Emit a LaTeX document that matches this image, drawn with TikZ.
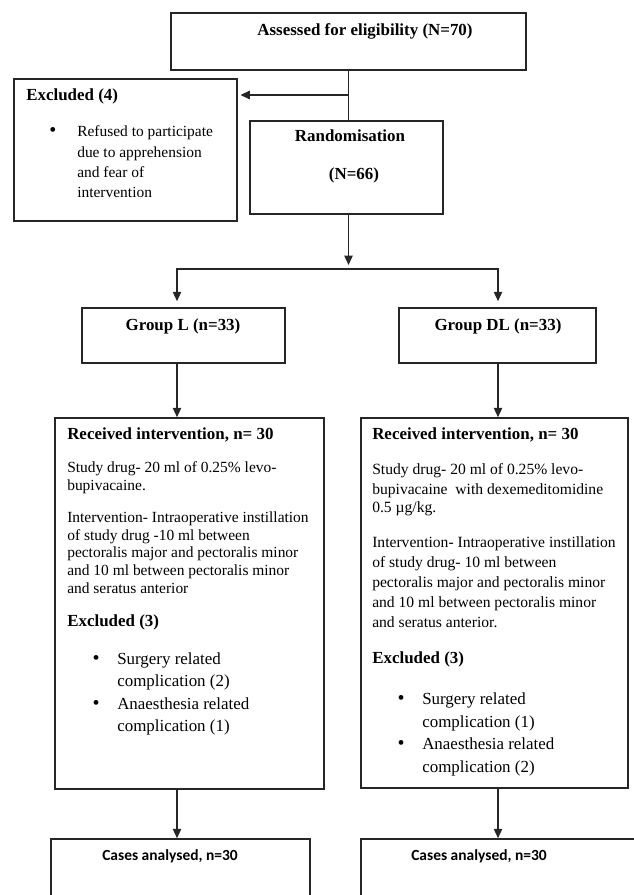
\documentclass[tikz,border=0pt]{standalone}
\usepackage{fontspec}
\setmainfont{Liberation Serif}
\newfontfamily\calib{Carlito}
\usetikzlibrary{arrows.meta,fit}
\begin{document}
\begin{tikzpicture}[x=0.75pt,y=-0.75pt,
  box/.style={draw=black!85,line width=1.15pt,inner sep=0pt},
  ln/.style={line width=1.15pt,draw=black!85},
  arr/.style={line width=1.15pt,draw=black!85,-{Triangle[width=6.2pt,length=7pt]}},
  hd/.style={font=\fontsize{12.7}{15}\selectfont\bfseries,inner sep=0pt},
  bl/.style={font=\fontsize{11.6}{14}\selectfont,inner sep=0pt,anchor=base west},
  br/.style={font=\fontsize{11.7}{14}\selectfont,inner sep=0pt,anchor=base west},
  bu/.style={font=\fontsize{12.7}{15}\selectfont,inner sep=0pt,anchor=base west},
  dot/.style={font=\fontsize{15}{17}\selectfont,inner sep=0pt,anchor=base},
  ca/.style={font=\fontsize{11.6}{14}\selectfont\calib\bfseries,inner sep=0pt,anchor=base}
]
\useasboundingbox (0,0) rectangle (633,895);

% boxes
\node[box,fit={(171,13) (526,70)}] (assess) {};
\node[box,fit={(14,79) (237,221)}] (excl) {};
\node[box,fit={(250,121) (443,214)}] (rand) {};
\node[box,fit={(82,308) (285,363)}] (gl) {};
\node[box,fit={(399,308) (596,363)}] (gdl) {};
\node[box,fit={(55,418) (324,789)}] (rl) {};
\node[box,fit={(361,418) (628,788)}] (rr) {};
\node[box,fit={(51,839) (310,905)}] (cl) {};
\node[box,fit={(361,839) (650,905)}] (cr) {};

% connectors
\coordinate (bx) at (348.5,95);
\draw[ln] (assess.south) -- (assess.south |- rand.north);
\draw[arr,shorten >=2pt] (bx) -- (bx -| excl.east);
\coordinate (sp) at (348.5,269);
\draw[arr,shorten >=3pt] (sp |- rand.south) -- (sp);
\coordinate (jl) at (177,269);
\coordinate (jr) at (498,269);
\draw[arr,shorten >=4.5pt] (jr) -- (jl) -- (jl |- gl.north);
\draw[arr,shorten >=4.5pt] (jl) -- (jr) -- (jr |- gdl.north);
\draw[arr] (jl |- gl.south) -- (jl |- rl.north);
\draw[arr] (jr |- gdl.south) -- (jr |- rr.north);
\draw[arr] (jl |- rl.south) -- (jl |- cl.north);
\draw[arr] (jr |- rr.south) -- (jr |- cr.north);

% top texts
\node[hd,anchor=base] (ta) at (365,35.5) {Assessed for eligibility (N=70)};
\node[hd,anchor=base west] (te) at (26,100.5) {Excluded (4)};
\node[dot] (ed) at (53,136.5) {\textbullet};
\node[bl] (e1) at (77,136.5) {Refused to participate};
\node[bl] (e2) at (77,157) {due to apprehension};
\node[bl] (e3) at (77,177) {and fear of};
\node[bl] (e4) at (77,197.5) {intervention};
\node[hd,anchor=base] (tr1) at (350,141.5) {Randomisation};
\node[hd,anchor=base] (tr2) at (354,179.5) {(N=66)};
\node[hd,anchor=base] (tgl) at (183,330.5) {Group L (n=33)};
\node[hd,anchor=base] (tgd) at (498,330.5) {Group DL (n=33)};

% left column
\node[hd,anchor=base west] (lh) at (67,439.5) {Received intervention, n= 30};
\node[bl] (l1) at (67,472) {Study drug- 20 ml of 0.25\% levo-};
\node[bl] (l2) at (67,490) {bupivacaine.};
\node[bl] (l3) at (67,522) {Intervention- Intraoperative instillation};
\node[bl] (l4) at (67,540) {of study drug -10 ml between};
\node[bl] (l5) at (67,557.5) {pectoralis major and pectoralis minor};
\node[bl] (l6) at (67,575.5) {and 10 ml between pectoralis minor};
\node[bl] (l7) at (67,593) {and seratus anterior};
\node[hd,anchor=base west] (lx) at (67,626.5) {Excluded (3)};
\node[dot] (ld1) at (96,664.5) {\textbullet};
\node[bu] (lb1) at (117,664.5) {Surgery related};
\node[bu] (lb2) at (117,686.5) {complication (2)};
\node[dot] (ld2) at (96,709) {\textbullet};
\node[bu] (lb3) at (117,709) {Anaesthesia related};
\node[bu] (lb4) at (117,731.5) {complication (1)};

% right column
\node[hd,anchor=base west] (rh) at (372,439.5) {Received intervention, n= 30};
\node[br] (r1) at (372,474) {Study drug- 20 ml of 0.25\% levo-};
\node[br] (r2) at (372,494) {bupivacaine\ \ with dexemeditomidine};
\node[br] (r3) at (372,512.5) {0.5 µg/kg.};
\node[br] (r4) at (372,547) {Intervention- Intraoperative instillation};
\node[br] (r5) at (372,567) {of study drug- 10 ml between};
\node[br] (r6) at (372,587) {pectoralis major and pectoralis minor};
\node[br] (r7) at (372,607) {and 10 ml between pectoralis minor};
\node[br] (r8) at (372,627) {and seratus anterior.};
\node[hd,anchor=base west] (rx) at (372,663) {Excluded (3)};
\node[dot] (rd1) at (401,704.5) {\textbullet};
\node[bu] (rb1) at (422,704.5) {Surgery related};
\node[bu] (rb2) at (422,727) {complication (1)};
\node[dot] (rd2) at (401,749.5) {\textbullet};
\node[bu] (rb3) at (422,749.5) {Anaesthesia related};
\node[bu] (rb4) at (422,772) {complication (2)};

% bottom
\node[ca] (c1) at (170,860) {Cases analysed, n=30};
\node[ca] (c2) at (479,860) {Cases analysed, n=30};
\end{tikzpicture}
\end{document}
